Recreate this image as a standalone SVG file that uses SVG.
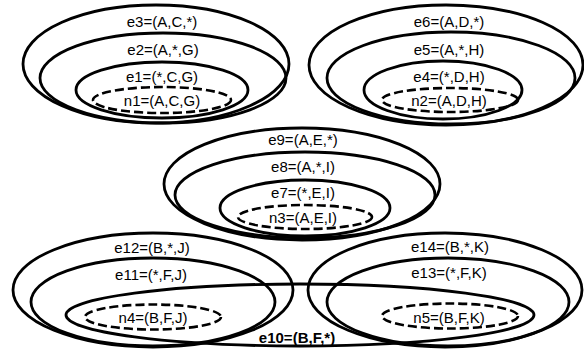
<svg xmlns="http://www.w3.org/2000/svg" width="584" height="356" viewBox="0 0 584 356">
<style>
.s{fill:none;stroke:#000;stroke-width:2.8}
.d{fill:none;stroke:#000;stroke-width:2.6;stroke-dasharray:9 4}
text{font-family:"Liberation Sans",Arial,sans-serif;font-size:15px;fill:#000;text-anchor:middle}
.b{font-weight:bold}
</style>
<rect width="584" height="356" fill="#fff"/>
<g id="e3"><ellipse class="s" cx="156" cy="64" rx="133" ry="59"/><text x="162" y="27">e3=(A,C,*)</text></g>
<g id="e2"><ellipse class="s" cx="163" cy="78" rx="123" ry="45"/><text x="163" y="55">e2=(A,*,G)</text></g>
<g id="e1"><ellipse class="s" cx="162" cy="90" rx="86" ry="28"/><text x="162" y="82">e1=(*,C,G)</text></g>
<g id="n1"><ellipse class="d" cx="162" cy="100" rx="69" ry="13"/><text x="162" y="106">n1=(A,C,G)</text></g>
<g id="e6"><ellipse class="s" cx="446" cy="65" rx="137" ry="60"/><text x="449" y="27">e6=(A,D,*)</text></g>
<g id="e5"><ellipse class="s" cx="451" cy="78" rx="124" ry="46"/><text x="449" y="55">e5=(A,*,H)</text></g>
<g id="e4"><ellipse class="s" cx="443" cy="90" rx="79" ry="29"/><text x="449" y="82">e4=(*,D,H)</text></g>
<g id="n2"><ellipse class="d" cx="450" cy="100" rx="68" ry="12"/><text x="449" y="106">n2=(A,D,H)</text></g>
<g id="e9"><ellipse class="s" cx="302" cy="184" rx="138" ry="56"/><text x="303" y="145">e9=(A,E,*)</text></g>
<g id="e8"><ellipse class="s" cx="305" cy="195" rx="130" ry="43"/><text x="303" y="172">e8=(A,*,I)</text></g>
<g id="e7"><ellipse class="s" cx="305" cy="208" rx="85" ry="28"/><text x="303" y="198">e7=(*,E,I)</text></g>
<g id="n3"><ellipse class="d" cx="305" cy="217" rx="67" ry="12"/><text x="303" y="223">n3=(A,E,I)</text></g>
<g id="e12"><ellipse class="s" cx="153" cy="290" rx="140" ry="57"/><text x="152" y="253">e12=(B,*,J)</text></g>
<g id="e11"><ellipse class="s" cx="153" cy="302" rx="122" ry="44"/><text x="151" y="280">e11=(*,F,J)</text></g>
<g id="n4"><ellipse class="d" cx="153" cy="317" rx="68" ry="12.5"/><text x="153" y="323">n4=(B,F,J)</text></g>
<g id="e14"><ellipse class="s" cx="445" cy="290" rx="137" ry="57"/><text x="450" y="252">e14=(B,*,K)</text></g>
<g id="e13"><ellipse class="s" cx="448" cy="302" rx="121" ry="44"/><text x="449" y="278">e13=(*,F,K)</text></g>
<g id="n5"><ellipse class="d" cx="450" cy="316" rx="68" ry="12.5"/><text x="449" y="323">n5=(B,F,K)</text></g>
<g id="e10"><ellipse class="s" cx="300" cy="315" rx="234" ry="31"/><text class="b" x="297" y="343">e10=(B,F,*)</text></g>
<g id="connectors"/>
</svg>
